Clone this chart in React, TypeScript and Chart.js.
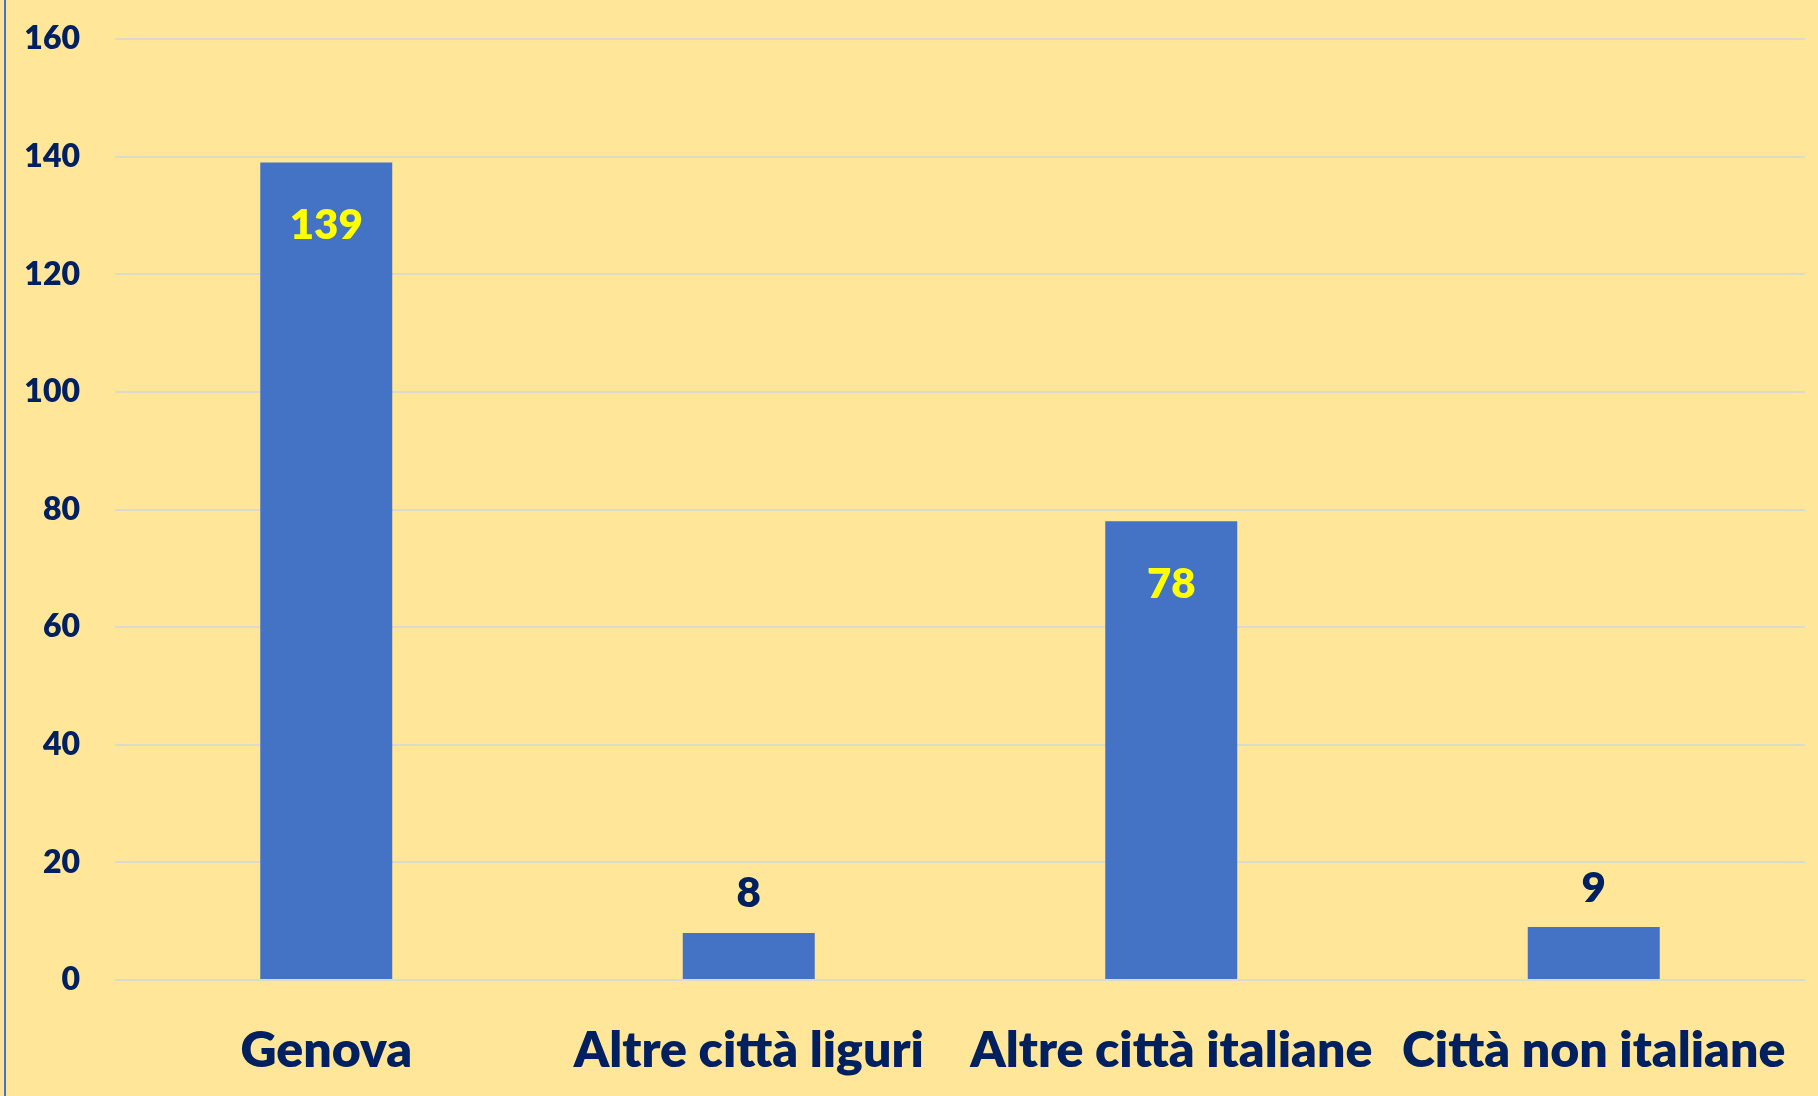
import React, { useEffect, useRef } from "react";
import { Chart, registerables } from "chart.js";

Chart.register(...registerables);

const categories: string[] = ["Genova", "Altre città liguri", "Altre città italiane", "Città non italiane"];
const values: number[] = [139, 8, 78, 9];
const yTicks: number[] = [0, 20, 40, 60, 80, 100, 120, 140, 160];

const NAVY = "#002060";
const BAR = "#4472C4";
const BG = "#FFE699";
const GRID = "#DCDACB";
const FONT = "Lato, 'Noto Sans', sans-serif";
const WEIGHT = "800";

const decorPlugin = {
  id: "decor",
  beforeDraw(chart: any) {
    const { ctx, width, height } = chart;
    ctx.save();
    ctx.fillStyle = BG;
    ctx.fillRect(0, 0, width, height);
    ctx.fillStyle = BAR;
    ctx.fillRect(4, 0, 2, height);
    ctx.restore();
  },
};

const valueLabelPlugin = {
  id: "valueLabels",
  afterDatasetsDraw(chart: any) {
    const { ctx } = chart;
    const meta = chart.getDatasetMeta(0);
    const data = chart.data.datasets[0].data as number[];
    const yScale = chart.scales.y;
    const range = yScale.max - yScale.min;
    ctx.save();
    ctx.textAlign = "center";
    ctx.textBaseline = "middle";
    meta.data.forEach((bar: any, i: number) => {
      const v = data[i];
      const inside = v / range > 0.25;
      ctx.font = `${WEIGHT} 42px ${FONT}`;
      if (inside) {
        ctx.fillStyle = "#FFFF00";
        ctx.fillText(String(v), bar.x, bar.y + 63);
      } else {
        ctx.fillStyle = NAVY;
        ctx.fillText(String(v), bar.x, bar.y - 39);
      }
    });
    ctx.restore();
  },
};

export default function App() {
  const canvasRef = useRef<HTMLCanvasElement | null>(null);

  useEffect(() => {
    document.body.style.margin = "0";
    const canvas = canvasRef.current;
    if (!canvas) return;
    const chart = new Chart(canvas, {
      type: "bar",
      data: {
        labels: categories,
        datasets: [
          {
            data: values,
            backgroundColor: BAR,
            borderWidth: 0,
            categoryPercentage: 1,
            barPercentage: 0.3124,
          },
        ],
      },
      options: {
        animation: false,
        responsive: false,
        maintainAspectRatio: false,
        layout: { padding: { top: 39, right: 13, bottom: 0, left: 0 } },
        plugins: {
          legend: { display: false },
          tooltip: { enabled: false },
        },
        scales: {
          x: {
            grid: { display: false, drawTicks: false },
            border: { display: false },
            ticks: {
              color: NAVY,
              font: { family: FONT, size: 50, weight: WEIGHT },
              padding: 41,
              maxRotation: 0,
              autoSkip: false,
            },
            afterFit(scale: any) {
              scale.height = 116;
              scale.paddingLeft = 0;
              scale.paddingRight = 0;
            },
          },
          y: {
            min: 0,
            max: 160,
            afterBuildTicks(scale: any) {
              scale.ticks = yTicks.map((v) => ({ value: v }));
            },
            grid: { color: GRID, lineWidth: 2, drawTicks: false },
            border: { display: false },
            ticks: {
              color: NAVY,
              font: { family: FONT, size: 32, weight: WEIGHT },
              padding: 35,
            },
            afterFit(scale: any) {
              scale.width = 115;
              scale.paddingTop = 0;
              scale.paddingBottom = 0;
            },
          },
        },
      },
      plugins: [decorPlugin, valueLabelPlugin],
    });
    return () => chart.destroy();
  }, []);

  return (
    <div style={{ position: "absolute", left: 0, top: 0, width: 1818, height: 1096 }}>
      <canvas ref={canvasRef} width={1818} height={1096} style={{ display: "block" }} />
    </div>
  );
}
